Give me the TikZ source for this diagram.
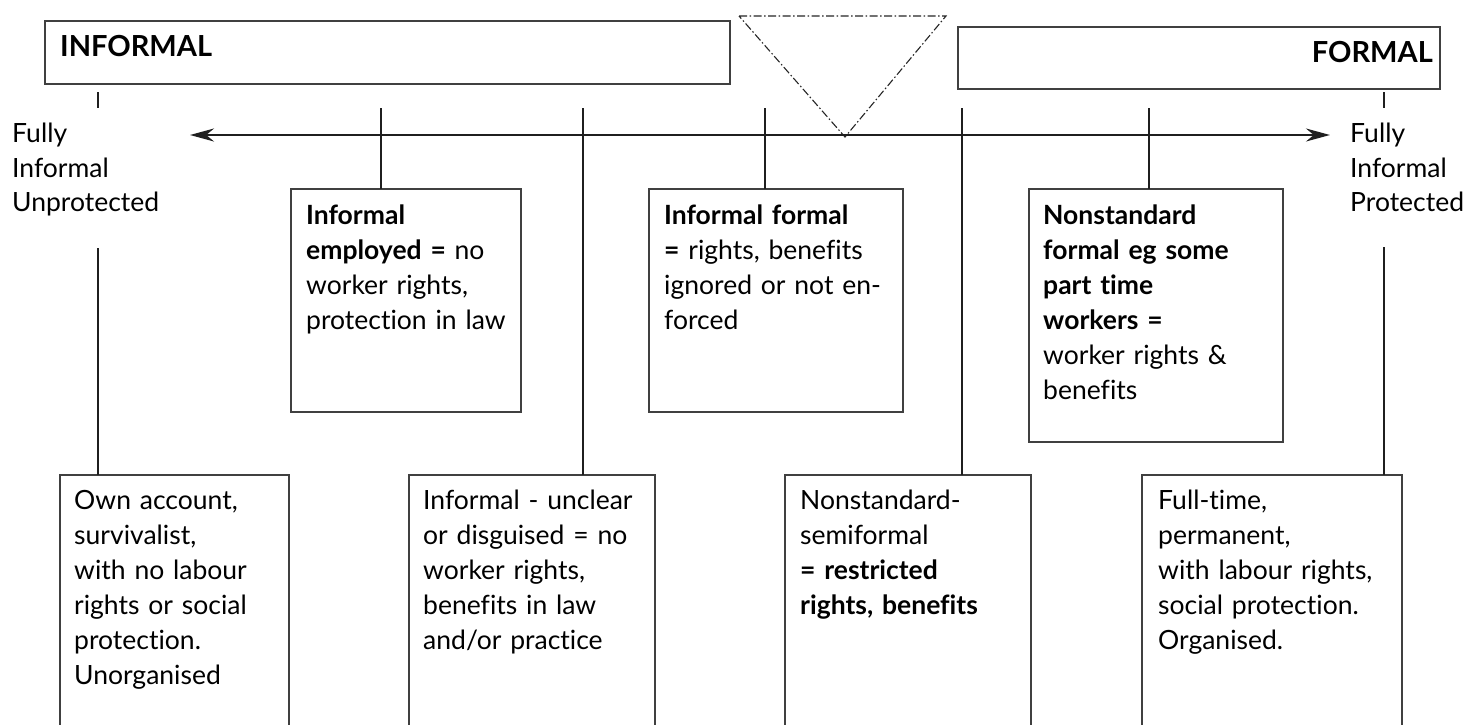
\documentclass[tikz,border=0pt]{standalone}
\usepackage{fontspec}
\setmainfont{Lato}[Ligatures=NoCommon]
\usetikzlibrary{arrows.meta}
\begin{document}
\begin{tikzpicture}[x=1pt,y=-1pt,
  box/.style={draw=black!75, line width=1.3pt, inner sep=0pt, outer sep=0pt, anchor=north west},
  link/.style={draw=black!88, line width=2.4pt},
  txt/.style={anchor=base west, inner sep=0pt, align=left, text width=#1, font=\fontsize{26.5}{35}\selectfont},
  head/.style={inner sep=0pt, font=\fontsize{29}{30}\selectfont\bfseries},
  tri/.style={draw=black!85, line width=1.1pt, dash pattern=on 8pt off 2.5pt on 1.5pt off 2.5pt}
]
\clip (0,0) rectangle (1470,725);
\fill[white] (0,0) rectangle (1470,725);

% header boxes
\node[box, minimum width=685pt, minimum height=63pt] (inf) at (45,21) {};
\node[head, anchor=base west] (infT) at (60,57) {INFORMAL};
\node[box, minimum width=482pt, minimum height=62pt] (frm) at (958,27) {};
\node[head, anchor=base east] (frmT) at (1433,63) {FORMAL};

% triangle
\coordinate (t1) at (739,16);
\coordinate (t2) at (946,16);
\coordinate (t3) at (845,137);
\draw[tri] (t1) -- (t2) -- (t3) -- cycle;

% main arrow
\coordinate (aL) at (190,135);
\coordinate (aR) at (1330,135);
\draw[draw=black!88, line width=2pt, {Stealth[length=24pt,width=13pt]}-{Stealth[length=24pt,width=13pt]}] (aL) -- (aR);

% end ticks
\coordinate (kL1) at (98,92);  \coordinate (kL2) at (98,108);
\coordinate (kR1) at (1384,92); \coordinate (kR2) at (1384,108);
\draw[link] (kL1) -- (kL2);
\draw[link] (kR1) -- (kR2);

% side labels
\node[txt=200pt] (lblL) at (12,142) {Fully\\Informal\\Unprotected};
\node[txt=130pt] (lblR) at (1350,142) {Fully\\Informal\\Protected};

% upper boxes
\node[box, minimum width=230pt, minimum height=223pt] (bA) at (291,189) {};
\node[box, minimum width=254pt, minimum height=223pt] (bB) at (649,189) {};
\node[box, minimum width=254pt, minimum height=253pt] (bC) at (1029,189) {};

% lower boxes (cut off at the bottom)
\node[box, minimum width=229pt, minimum height=300pt] (b1) at (60,475) {};
\node[box, minimum width=246pt, minimum height=300pt] (b2) at (409,475) {};
\node[box, minimum width=246pt, minimum height=300pt] (b3) at (785,475) {};
\node[box, minimum width=260pt, minimum height=300pt] (b4) at (1142,475) {};

% connectors
\coordinate (cA) at (381,108);
\coordinate (c2) at (583,108);
\coordinate (cB) at (765,108);
\coordinate (c3) at (962,108);
\coordinate (cC) at (1149,108);
\coordinate (c1) at (98,248);
\coordinate (c4) at (1384,247);
\draw[link] (cA) -- (cA |- bA.north);
\draw[link] (c2) -- (c2 |- b2.north);
\draw[link] (cB) -- (cB |- bB.north);
\draw[link] (c3) -- (c3 |- b3.north);
\draw[link] (cC) -- (cC |- bC.north);
\draw[link] (c1) -- (c1 |- b1.north);
\draw[link] (c4) -- (c4 |- b4.north);

% box texts
\node[txt=215pt] (tA) at (306,224) {\textbf{Informal}\\\textbf{employed =} no\\worker rights,\\protection in law};
\node[txt=240pt] (tB) at (664,224) {\textbf{Informal formal}\\\textbf{=} rights, benefits\\ignored or not en-\\forced};
\node[txt=240pt] (tC) at (1043,224) {\textbf{Nonstandard}\\\textbf{formal eg some}\\\textbf{part time}\\\textbf{workers =}\\worker rights \&\\benefits};

\node[txt=215pt] (t1x) at (74,509) {Own account,\\survivalist,\\with no labour\\rights or social\\protection.\\Unorganised};
\node[txt=230pt] (t2x) at (423,509) {Informal - unclear\\or disguised = no\\worker rights,\\benefits in law\\and/or practice};
\node[txt=230pt] (t3x) at (800,509) {Nonstandard-\\semiformal\\\textbf{= restricted}\\\textbf{rights, benefits}};
\node[txt=245pt] (t4x) at (1158,509) {Full-time,\\permanent,\\with labour rights,\\social protection.\\Organised.};
\end{tikzpicture}
\end{document}
